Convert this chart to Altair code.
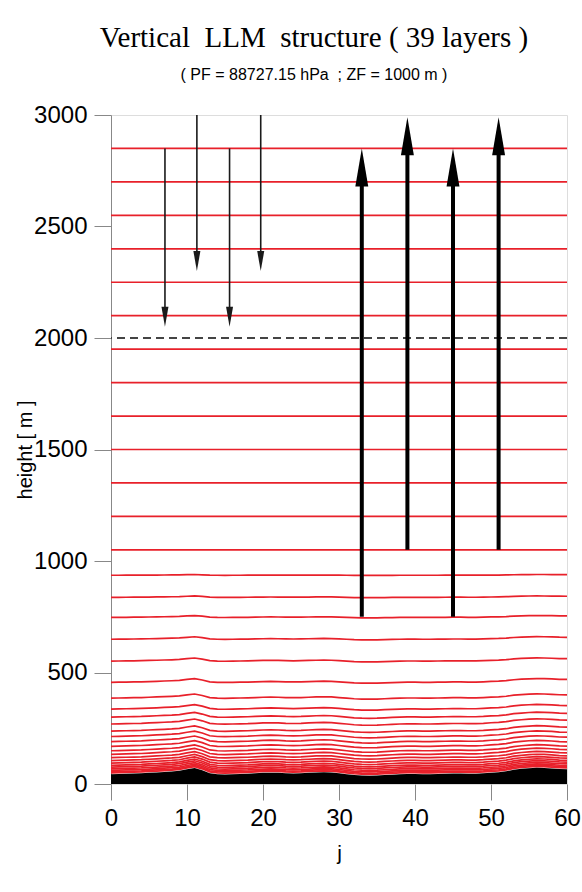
import altair as alt
import pandas as pd

TITLE = "Vertical\u00a0\u00a0LLM\u00a0\u00a0structure ( 39 layers )"
SUBTITLE = "( PF = 88727.15 hPa \u00a0; ZF = 1000 m )"

# grid index and terrain height (m) read from the black orography
j_values = list(range(61))
terrain = [44, 45, 46, 47, 48, 50, 52, 54, 56, 59,
           66, 72, 62, 48, 44, 43, 44, 45, 46, 48,
           50, 51, 50, 48, 47, 48, 50, 52, 53, 52,
           48, 44, 40, 38, 37, 38, 40, 42, 44, 45,
           45, 44, 44, 45, 46, 47, 47, 46, 46, 48,
           51, 53, 57, 64, 68, 71, 73, 72, 70, 67, 66]

# model level heights (m) read at j = 0, and how strongly each follows the terrain
level_heights = [2850, 2700, 2550, 2400, 2250, 2100, 1950, 1800, 1650, 1500, 1350, 1200, 1050,
                 936, 837, 747, 649, 551, 456, 385, 336, 300, 269,
                 237, 213, 190, 169, 149, 133, 118, 105, 94, 84,
                 76, 68, 61, 55, 50]
level_bend = [0] * 13 + [0.12, 0.22, 0.30, 0.40, 0.50, 0.58, 0.66, 0.72, 0.76, 0.80,
                         0.84, 0.87, 0.90, 0.92, 0.94, 0.96, 0.97, 0.98, 0.99, 1.0,
                         1.0, 1.0, 1.0, 1.0, 1.0]

# arrows: position j, start height, tip height
down_j = [7.1, 11.3, 15.6, 19.7]
down_start = [2850, 3000, 2850, 3000]
down_tip = [2050, 2300, 2050, 2300]

up_j = [33.0, 39.0, 45.0, 51.0]
up_start = [750, 1050, 750, 1050]
up_tip = [2850, 2990, 2850, 2990]

DASH_LEVEL = 2000

rows = []
for k, (lev, w) in enumerate(zip(level_heights, level_bend)):
    for j, t in zip(j_values, terrain):
        rows.append({"level": k, "j": j, "z": lev + w * (t - terrain[0])})
lines_df = pd.DataFrame(rows)
terrain_df = pd.DataFrame({"j": j_values, "terrain": terrain})
down_df = pd.DataFrame({"j": down_j, "start": down_start, "tip": down_tip})
up_df = pd.DataFrame({"j": up_j, "start": up_start, "tip": up_tip})

xscale = alt.Scale(domain=[0, 60], nice=False, zero=False)
yscale = alt.Scale(domain=[0, 3000], nice=False, zero=False)

x_axis = alt.Axis(values=[0, 10, 20, 30, 40, 50, 60], title="j", grid=False, format="d",
                  tickSize=16, labelPadding=6, labelFontSize=24, titleFontSize=21,
                  titleFontWeight="normal", titlePadding=12, domain=False, labelFlush=False)
y_axis = alt.Axis(values=[0, 500, 1000, 1500, 2000, 2500, 3000], title="height [ m ]",
                  format="d", grid=False, tickSize=17, labelPadding=7, labelFontSize=24,
                  titleFontSize=20, titleFontWeight="normal", titleX=-86,
                  titleBaseline="middle", labelFlush=False)

lines = alt.Chart(lines_df).mark_line(color="#e8202a", strokeWidth=1.7).encode(
    x=alt.X("j:Q", scale=xscale, axis=x_axis),
    y=alt.Y("z:Q", scale=yscale, axis=y_axis),
    detail="level:N",
)

ground = alt.Chart(terrain_df).mark_area(color="black", opacity=1).encode(
    x=alt.X("j:Q", scale=xscale),
    y=alt.Y("terrain:Q", scale=yscale),
    y2=alt.datum(0),
)

dashed = alt.Chart(pd.DataFrame({"h": [DASH_LEVEL]})).mark_rule(
    color="#444444", strokeWidth=2, strokeDash=[8, 5]
).encode(y=alt.Y("h:Q", scale=yscale))

THIN_HEAD = 20
THICK_HEAD = 38

down_shaft = alt.Chart(down_df).mark_rule(
    color="#1a1a1a", strokeWidth=1.6, y2Offset=-THIN_HEAD * 0.7
).encode(x=alt.X("j:Q", scale=xscale), y=alt.Y("start:Q", scale=yscale), y2="tip:Q")

down_head = alt.Chart(down_df).mark_point(
    shape="M0,0L0.35,-2L-0.35,-2Z", size=THIN_HEAD ** 2, filled=True,
    color="#1a1a1a", opacity=1, strokeWidth=0
).encode(x=alt.X("j:Q", scale=xscale), y=alt.Y("tip:Q", scale=yscale))

up_shaft = alt.Chart(up_df).mark_rule(
    color="black", strokeWidth=4, y2Offset=THICK_HEAD * 0.7
).encode(x=alt.X("j:Q", scale=xscale), y=alt.Y("start:Q", scale=yscale), y2="tip:Q")

up_head = alt.Chart(up_df).mark_point(
    shape="M0,0L0.34,2L-0.34,2Z", size=THICK_HEAD ** 2, filled=True,
    color="black", opacity=1, strokeWidth=0
).encode(x=alt.X("j:Q", scale=xscale), y=alt.Y("tip:Q", scale=yscale))

chart = alt.layer(lines, ground, dashed, down_shaft, down_head, up_shaft, up_head).properties(
    width=456,
    height=669,
    title=alt.Title(
        text=TITLE, subtitle=SUBTITLE,
        font="Liberation Serif", fontSize=29, fontWeight="normal", color="black",
        subtitleFont="Liberation Sans", subtitleFontSize=16, subtitleColor="black",
        anchor="middle", dx=-25, offset=20, subtitlePadding=14,
    ),
    padding={"left": 111, "top": 115, "right": 15, "bottom": 108},
    autosize=alt.AutoSizeParams(type="none"),
).configure_view(
    stroke="#555555", strokeWidth=1
).configure_axis(
    labelFont="Liberation Sans", titleFont="Liberation Sans", labelColor="black",
    titleColor="black", titleFontWeight="normal", domainColor="#444444",
    tickColor="#444444", tickWidth=1.2, domainWidth=1.2
).configure(background="white")

chart.save("out.html", embed_options={"renderer": "svg", "actions": False})
